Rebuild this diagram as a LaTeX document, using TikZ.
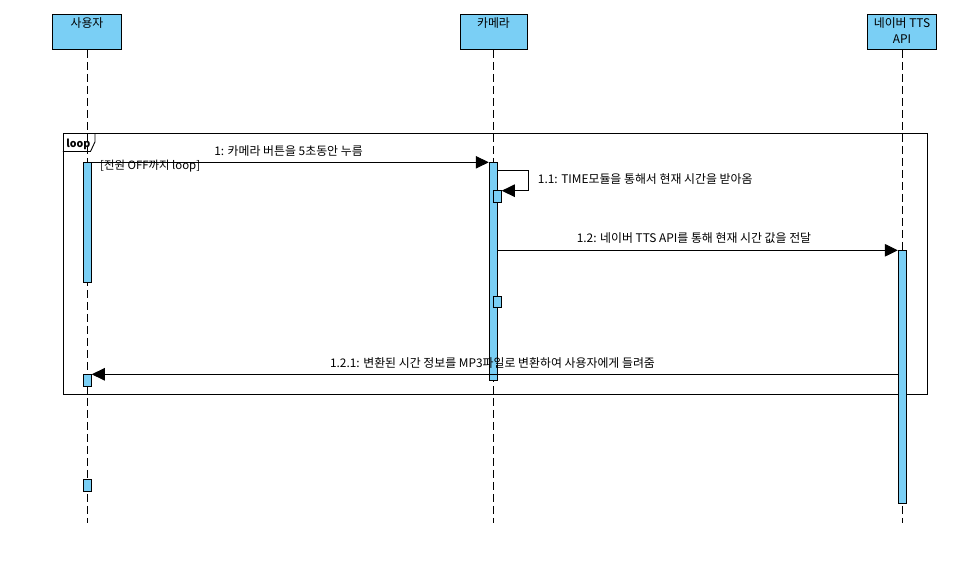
\documentclass[tikz,border=0pt]{standalone}
\usepackage{fontspec}
\setmainfont{Noto Sans CJK KR}
\usetikzlibrary{arrows.meta}
\definecolor{actfill}{HTML}{7ACFF5}
\begin{document}
\begin{tikzpicture}[x=1pt,y=-1pt,
  font=\fontsize{11.9}{13}\selectfont,
  head/.style={draw, fill=actfill, minimum width=69.4pt, minimum height=35pt, anchor=north, inner sep=0pt, line width=0.9pt},
  act/.style={draw, fill=actfill, minimum width=8pt, anchor=north, inner sep=0pt, line width=0.9pt},
  life/.style={draw, dash pattern=on 8pt off 4pt, line width=0.7pt},
  msg/.style={draw, line width=0.9pt, -{Triangle[length=13pt,width=12.5pt]}},
  lbl/.style={inner sep=0pt},
  framebox/.style={draw, line width=0.9pt, inner sep=0pt, anchor=north west},
]
\useasboundingbox[fill=white] (0,0) rectangle (972,571);

% lifeline heads
\node[head] (u) at (87,14) {};
\node[lbl] (ut) at (87,23.3) {사용자};
\node[head, minimum width=67pt] (c) at (493.5,14) {};
\node[lbl] (ct) at (493.5,23.3) {카메라};
\node[head] (n) at (902,14) {};
\node[lbl, align=center, font=\fontsize{11.9}{15.6}\selectfont] (nt) at (902,30.5) {네이버 TTS\\API};

% lifelines
\coordinate (uEnd) at (87,523);
\coordinate (cEnd) at (493.5,523);
\coordinate (nEnd) at (902,523);
\draw[life] (u.south) -- (uEnd);
\draw[life] (c.south) -- (cEnd);
\draw[life] (n.south) -- (nEnd);

% loop frame
\node[framebox, minimum width=863.7pt, minimum height=261pt] (loopframe) at (62.8,133.3) {};
\draw[line width=0.9pt] ([xshift=32.2pt]loopframe.north west) -- ++(0,8.5) -- ++(-4.5,9.7) -- ++(-27.7,0);
\node[lbl, font=\fontsize{10.6}{12}\bfseries] (looplbl) at (78.3,144.3) {loop};

% activations
\node[act, minimum height=119.7pt] (uA1) at (87.3,162.3) {};
\node[act, minimum height=12pt] (uA2) at (87.3,374.3) {};
\node[act, minimum height=12pt] (uA3) at (87.3,479.3) {};
\node[act, minimum height=217.7pt] (cA1) at (493.2,162.3) {};
\node[act, minimum height=12pt] (cA2) at (497.3,190) {};
\node[act, minimum height=11.5pt] (cA3) at (497.3,295.7) {};
\node[act, minimum height=253pt] (nA1) at (902.3,250.3) {};

% messages
\draw[msg] (uA1.north east) -- (cA1.north west);
\node[lbl] (m1) at (288.5,150.7) {1: 카메라 버튼을 5초동안 누름};
\node[lbl, anchor=west, font=\fontsize{11.4}{13}\selectfont] (guard) at (100,165.7) {[전원 OFF까지 loop]};

\draw[msg] ([yshift=-7.7pt]cA1.north east) -- ++(30.7,0) -- ++(0,20.7) -- ([yshift=-0.7pt]cA2.north east);
\node[lbl, anchor=west] (m11) at (537.7,179.3) {1.1: TIME모듈을 통해서 현재 시간을 받아옴};

\draw[msg] (cA1.east |- nA1.north) -- (nA1.north west);
\node[lbl] (m12) at (694,238.3) {1.2: 네이버 TTS API를 통해 현재 시간 값을 전달};

\draw[msg] (nA1.west |- uA2.north) -- (uA2.north east);
\node[lbl] (m121) at (492.5,362.7) {1.2.1: 변환된 시간 정보를 MP3파일로 변환하여 사용자에게 들려줌};
\end{tikzpicture}
\end{document}
